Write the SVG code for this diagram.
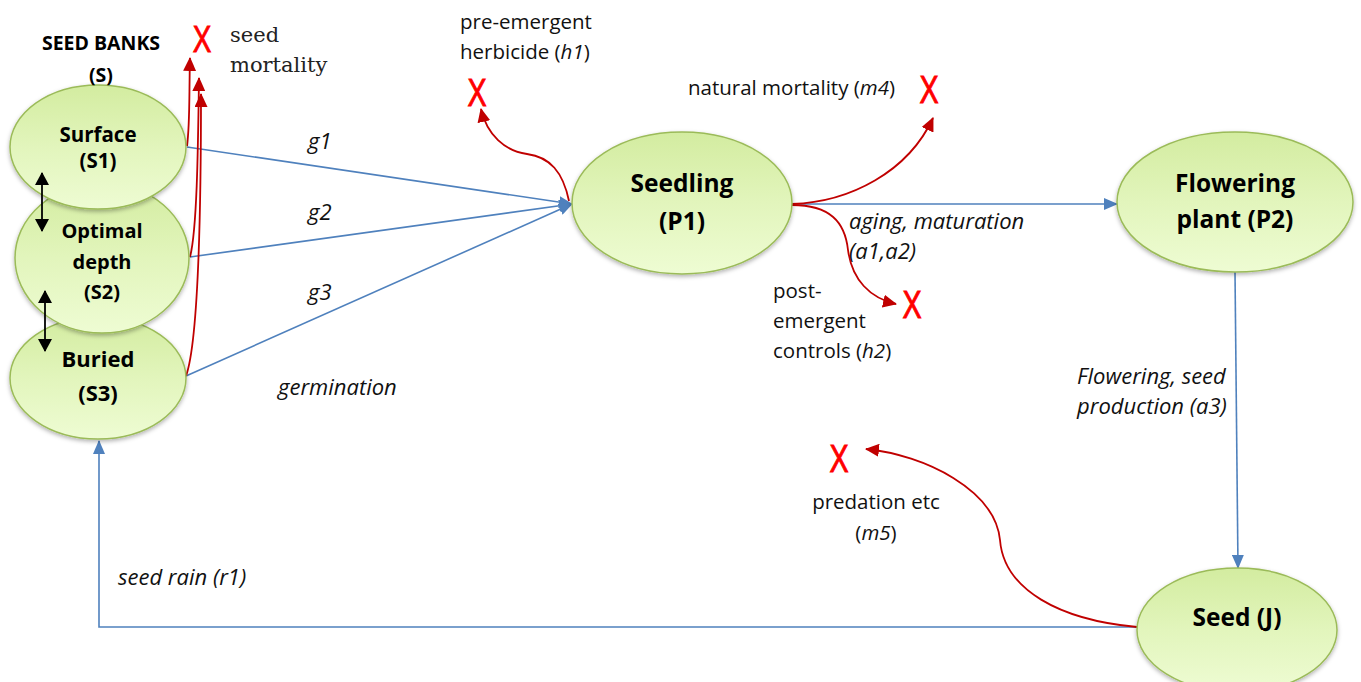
<svg xmlns="http://www.w3.org/2000/svg" width="1361" height="682" viewBox="0 0 1361 682">
<style>
.node{fill:url(#g);stroke:#9bbb59;stroke-width:1.5;filter:url(#sh)}
.nl{font-family:"Open Sans","Liberation Sans",sans-serif;font-weight:bold;fill:#000;text-anchor:middle}
.lb{font-family:"Open Sans","Liberation Sans",sans-serif;font-size:20.5px;fill:#111}
.it{font-style:italic}
.li{font-family:"Open Sans","Liberation Sans",sans-serif;font-size:22px;font-style:italic;fill:#111}
.x{font-family:"Liberation Sans",Arial,sans-serif;font-size:41px;fill:#ff0000;stroke:#ff0000;stroke-width:1;text-anchor:middle}
.blue{fill:none;stroke:#4f81bd;stroke-width:1.6}
.red{fill:none;stroke:#c00000;stroke-width:1.8}
.blk{fill:none;stroke:#000;stroke-width:1.8}
</style>
<defs>
<linearGradient id="g" x1="0" y1="0" x2="0" y2="1">
<stop offset="0" stop-color="#d3eca0"/>
<stop offset="0.5" stop-color="#e2f5bc"/>
<stop offset="1" stop-color="#eefcd3"/>
</linearGradient>
<filter id="sh" x="-10%" y="-10%" width="120%" height="130%">
<feDropShadow dx="0" dy="2" stdDeviation="2" flood-color="#000" flood-opacity="0.3"/>
</filter>
<marker id="ab" viewBox="0 0 14 12" refX="13" refY="6" markerWidth="14" markerHeight="12" markerUnits="userSpaceOnUse" orient="auto">
<path d="M0,0 L14,6 L0,12 Z" fill="#4f81bd"/>
</marker>
<marker id="ar" viewBox="0 0 14 13" refX="13" refY="6.5" markerWidth="14" markerHeight="13" markerUnits="userSpaceOnUse" orient="auto">
<path d="M0,0 L14,6.5 L0,13 Z" fill="#c00000"/>
</marker>
<marker id="ak" viewBox="0 0 13 14" refX="12" refY="7" markerWidth="13" markerHeight="14" markerUnits="userSpaceOnUse" orient="auto-start-reverse">
<path d="M0,0 L13,7 L0,14 Z" fill="#000"/>
</marker>
</defs>

<g id="connectors">
<path class="blue" d="M187,147 L572,204" marker-end="url(#ab)"/>
<path class="blue" d="M190,257 L572,204" marker-end="url(#ab)"/>
<path class="blue" d="M186,376 L572,204" marker-end="url(#ab)"/>
<path class="blue" d="M792,204 L1117,204" marker-end="url(#ab)"/>
<path class="blue" d="M1235,272 L1238,568" marker-end="url(#ab)"/>
<path class="blue" d="M1137,627 L99,627 L99,441" marker-end="url(#ab)"/>
<path class="red" d="M187,146 C190,125 189,95 190,58" marker-end="url(#ar)"/>
<path class="red" d="M190,257 C197,230 198,150 199,78" marker-end="url(#ar)"/>
<path class="red" d="M186,376 C199,340 201,200 201,94" marker-end="url(#ar)"/>
<path class="red" d="M569,201 C563,172 550,157 527,154 C505,151 487,135 481,109" marker-end="url(#ar)"/>
<path class="red" d="M792,204 C850,202 908,172 933,118" marker-end="url(#ar)"/>
<path class="red" d="M792,205 C830,205 845,222 848,250 C852,280 870,298 896,304" marker-end="url(#ar)"/>
<path class="red" d="M1137,627 C1060,620 1004,590 1000,540 C995,490 925,455 866,449" marker-end="url(#ar)"/>
</g>

<g id="node-S3">
<ellipse class="node" cx="98" cy="378" rx="88" ry="61"/>
<text class="nl" x="98" y="367" font-size="22">Buried</text>
<text class="nl" x="98" y="401" font-size="22">(S3)</text>
</g>
<g id="node-S2">
<ellipse class="node" cx="102" cy="258" rx="87" ry="75"/>
<text class="nl" x="102" y="238" font-size="20">Optimal</text>
<text class="nl" x="102" y="269" font-size="20">depth</text>
<text class="nl" x="102" y="299" font-size="20">(S2)</text>
</g>
<g id="node-S1">
<ellipse class="node" cx="98" cy="147" rx="88" ry="62"/>
<text class="nl" x="98" y="142" font-size="20.5">Surface</text>
<text class="nl" x="98" y="168" font-size="20.5">(S1)</text>
</g>
<g id="node-P1">
<ellipse class="node" cx="682" cy="203" rx="110" ry="71"/>
<text class="nl" x="682" y="192" font-size="24.5">Seedling</text>
<text class="nl" x="682" y="230" font-size="24.5">(P1)</text>
</g>
<g id="node-P2">
<ellipse class="node" cx="1235" cy="202" rx="118" ry="70"/>
<text class="nl" x="1235" y="192" font-size="24.5">Flowering</text>
<text class="nl" x="1235" y="228" font-size="24.5">plant (P2)</text>
</g>
<g id="node-J">
<ellipse class="node" cx="1237" cy="630" rx="100" ry="62"/>
<text class="nl" x="1237" y="626" font-size="24.5">Seed (J)</text>
</g>

<g id="connectors-depth">
<path class="blk" d="M42,173 L42,231" marker-start="url(#ak)" marker-end="url(#ak)"/>
<path class="blk" d="M45,291 L45,351" marker-start="url(#ak)" marker-end="url(#ak)"/>
</g>

<g id="labels">
<text class="nl" x="101" y="50" font-size="19.5">SEED BANKS</text>
<text class="nl" x="101" y="82" font-size="19.5">(S)</text>
<text x="230" y="42" font-family="'DejaVu Serif','Liberation Serif',serif" font-size="21" fill="#222">seed</text>
<text x="230" y="72" font-family="'DejaVu Serif','Liberation Serif',serif" font-size="21" fill="#222">mortality</text>
<text class="lb" x="460" y="29">pre-emergent</text>
<text class="lb" x="460" y="59">herbicide (<tspan class="it">h1</tspan>)</text>
<text class="lb" x="688" y="95">natural mortality (<tspan class="it">m4</tspan>)</text>
<text class="li" x="849" y="229">aging, maturation</text>
<text class="li" x="849" y="259">(a1,a2)</text>
<text class="lb" x="773" y="298">post-</text>
<text class="lb" x="773" y="328">emergent</text>
<text class="lb" x="773" y="358">controls (<tspan class="it">h2</tspan>)</text>
<text class="li" x="1077" y="384">Flowering, seed</text>
<text class="li" x="1077" y="414">production (a3)</text>
<text class="lb" x="876" y="509" text-anchor="middle">predation etc</text>
<text class="lb" x="876" y="540" text-anchor="middle">(<tspan class="it">m5</tspan>)</text>
<text class="li" x="118" y="585">seed rain (r1)</text>
<text class="li" x="308" y="149">g1</text>
<text class="li" x="308" y="220">g2</text>
<text class="li" x="308" y="300">g3</text>
<text class="li" x="278" y="395">germination</text>
<text class="x" transform="translate(202,52) scale(0.68,0.9)">X</text>
<text class="x" transform="translate(477,106) scale(0.7,0.95)">X</text>
<text class="x" transform="translate(929,103) scale(0.7,0.95)">X</text>
<text class="x" transform="translate(912,318) scale(0.7,0.95)">X</text>
<text class="x" transform="translate(839,472) scale(0.7,0.95)">X</text>
</g>
</svg>
